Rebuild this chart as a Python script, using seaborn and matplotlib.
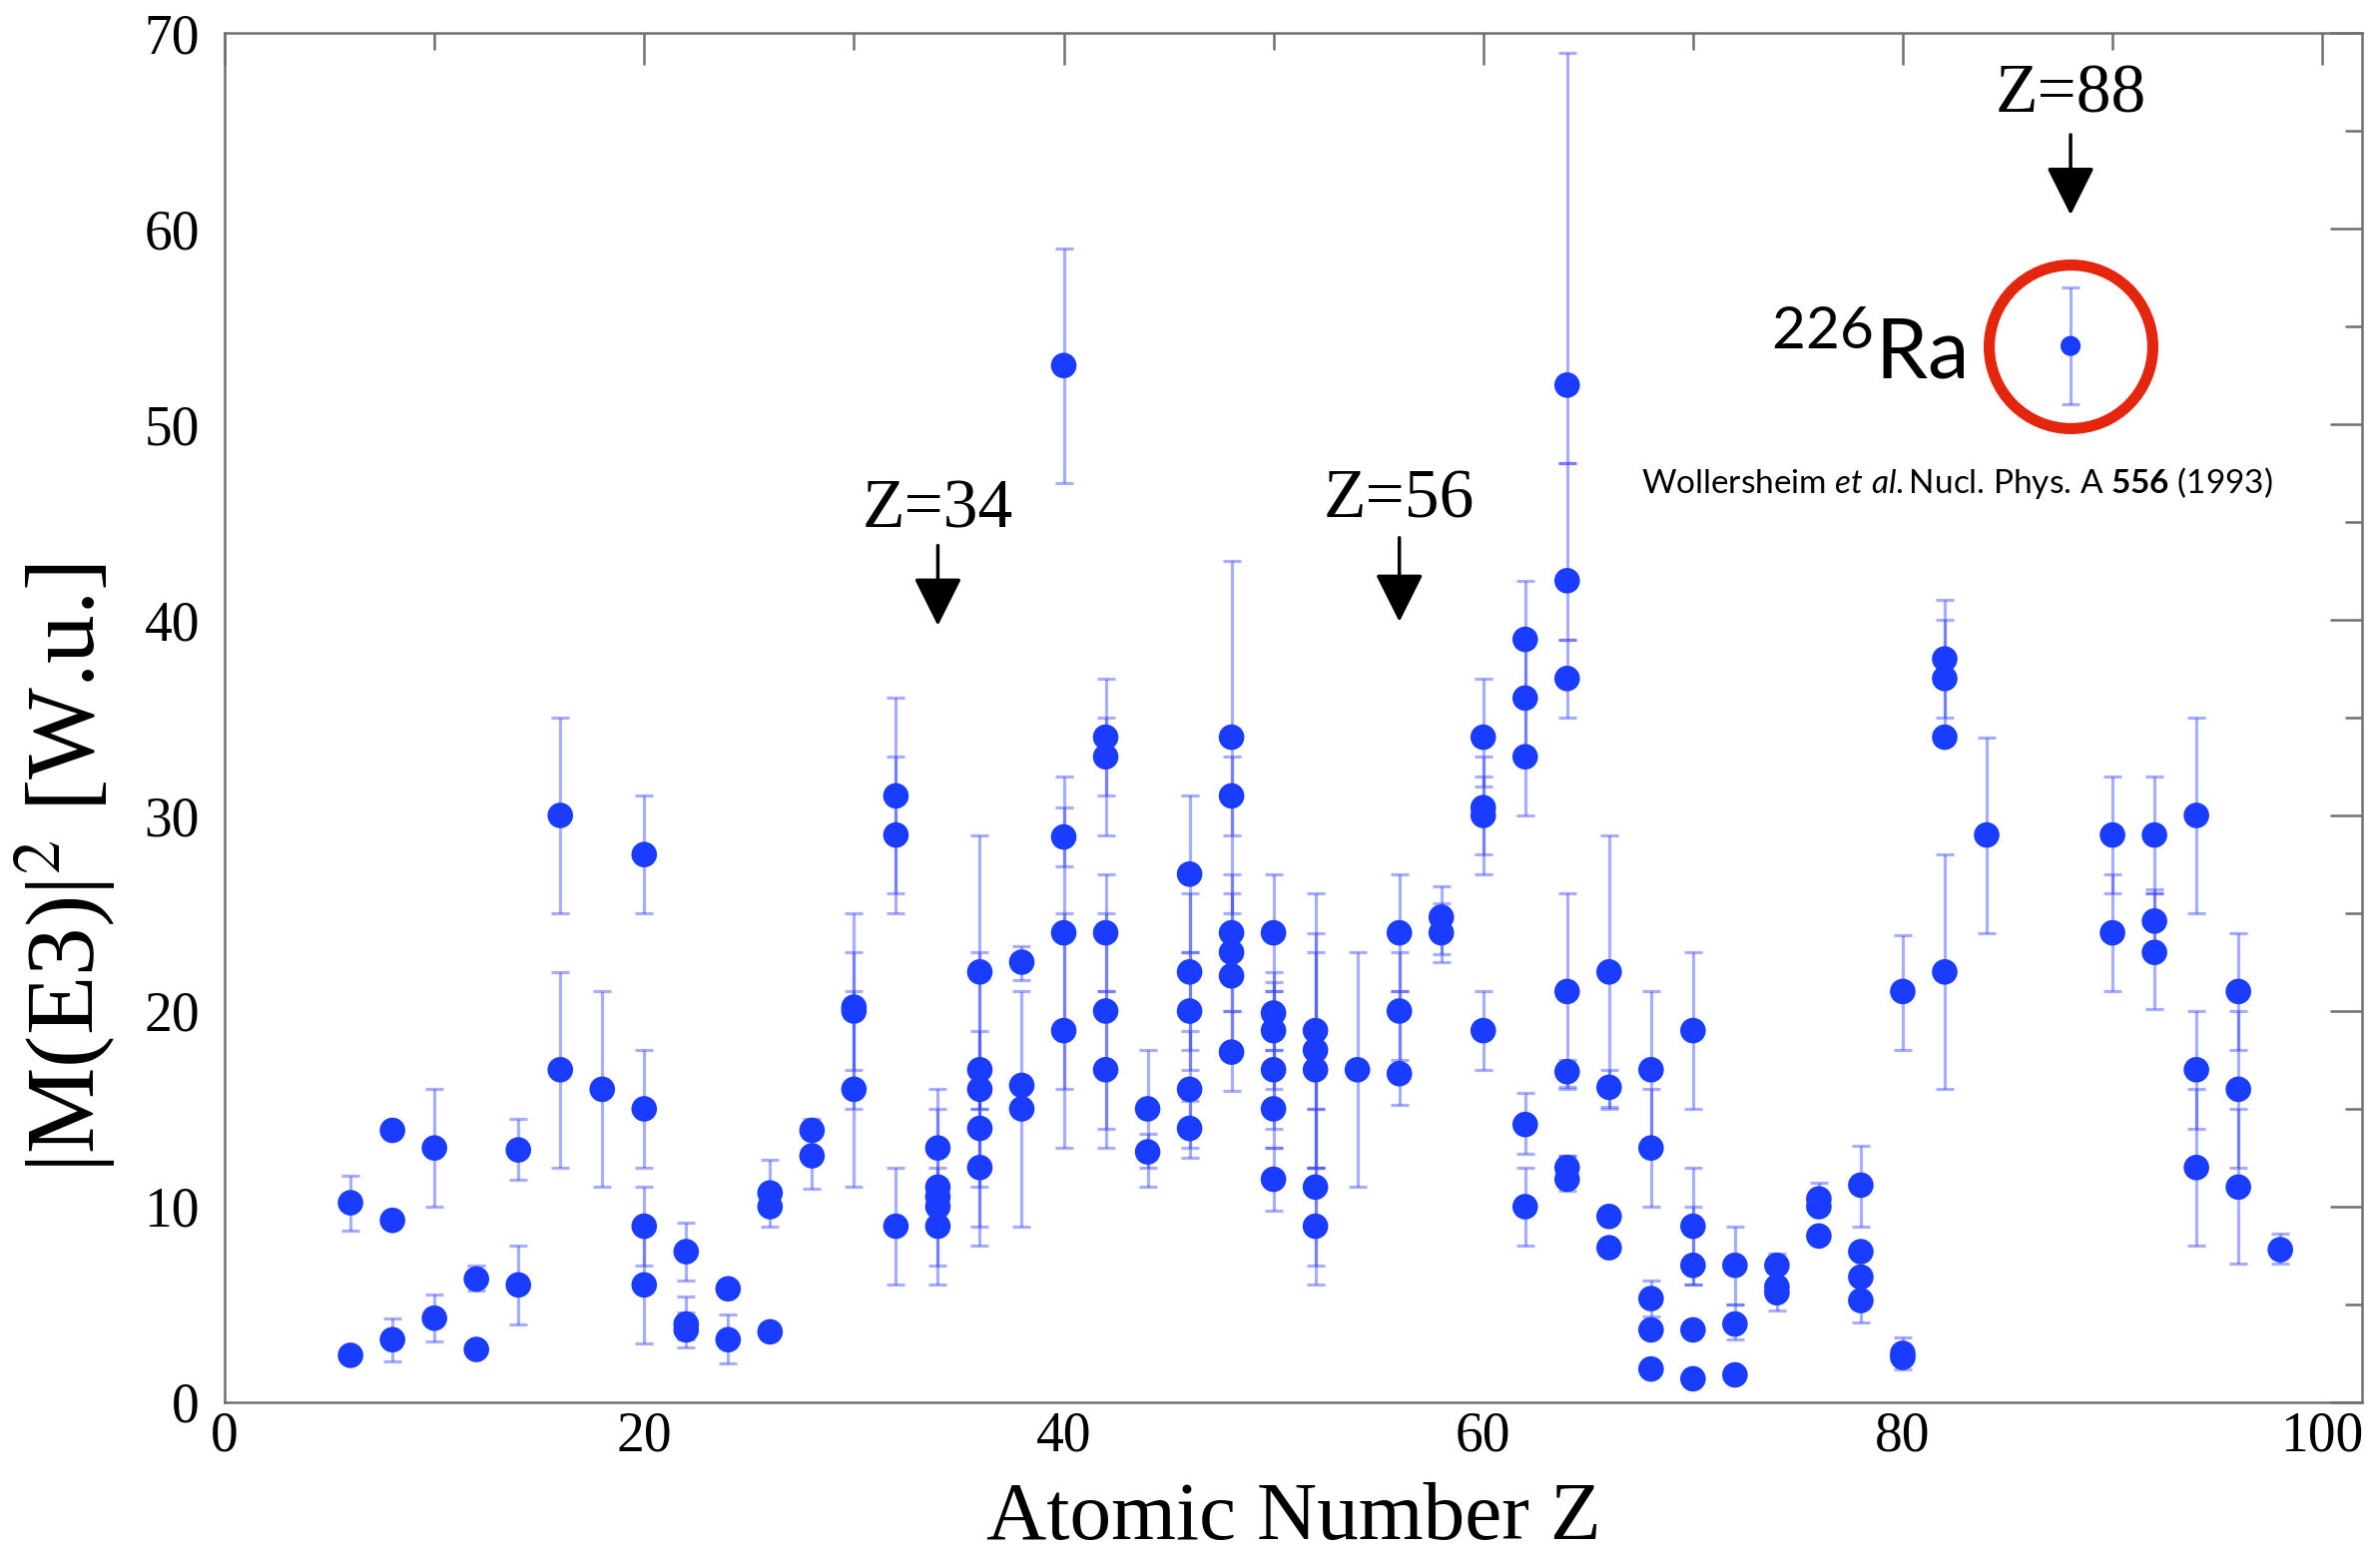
import numpy as np
import pandas as pd
import seaborn as sns
import matplotlib
matplotlib.use("Agg")
import matplotlib.pyplot as plt
from matplotlib.ticker import MultipleLocator

# ---------- datos ----------
# Z, |M(E3)|^2 [W.u.], limite inferior y superior de la barra (None = sin barra)
z = [6, 6,
     8, 8, 8,
     10, 10,
     12, 12,
     14, 14,
     16, 16,
     18,
     20, 20, 20, 20,
     22, 22, 22,
     24, 24,
     26, 26, 26,
     28, 28,
     30, 30, 30,
     32, 32, 32,
     34, 34, 34, 34, 34,
     36, 36, 36, 36, 36,
     38, 38, 38,
     40, 40, 40, 40,
     42, 42, 42, 42, 42,
     44, 44,
     46, 46, 46, 46, 46,
     48, 48, 48, 48, 48, 48,
     50, 50, 50, 50, 50, 50,
     52, 52, 52, 52, 52,
     54,
     56, 56, 56,
     58, 58,
     60, 60, 60, 60,
     62, 62, 62, 62, 62,
     64, 64, 64, 64, 64, 64, 64,
     66, 66, 66, 66,
     68, 68, 68, 68, 68,
     70, 70, 70, 70, 70,
     72, 72, 72,
     74, 74, 74,
     76, 76, 76,
     78, 78, 78, 78,
     80, 80, 80,
     82, 82, 82, 82,
     84,
     90, 90,
     92, 92, 92,
     94, 94, 94,
     96, 96, 96,
     98]

be3 = [10.2, 2.4,
       13.9, 9.3, 3.2,
       13.0, 4.3,
       6.3, 2.7,
       12.9, 6.0,
       30.0, 17.0,
       16.0,
       28.0, 15.0, 9.0, 6.0,
       7.7, 4.0, 3.7,
       5.8, 3.2,
       10.7, 10.0, 3.6,
       13.9, 12.6,
       20.0, 20.2, 16.0,
       31.0, 29.0, 9.0,
       13.0, 11.0, 10.5, 10.0, 9.0,
       22.0, 17.0, 16.0, 14.0, 12.0,
       22.5, 16.2, 15.0,
       53.0, 28.9, 24.0, 19.0,
       34.0, 33.0, 24.0, 20.0, 17.0,
       15.0, 12.8,
       27.0, 22.0, 20.0, 16.0, 14.0,
       34.0, 31.0, 24.0, 23.0, 21.8, 17.9,
       24.0, 19.9, 19.0, 17.0, 15.0, 11.4,
       19.0, 18.0, 17.0, 11.0, 9.0,
       17.0,
       24.0, 20.0, 16.8,
       24.8, 24.0,
       34.0, 30.4, 30.0, 19.0,
       39.0, 36.0, 33.0, 14.2, 10.0,
       52.0, 42.0, 37.0, 21.0, 16.9, 12.0, 11.4,
       22.0, 16.1, 9.5, 7.9,
       17.0, 13.0, 5.3, 3.7, 1.7,
       19.0, 9.0, 7.0, 3.7, 1.2,
       7.0, 4.0, 1.4,
       7.0, 5.9, 5.6,
       10.4, 10.0, 8.5,
       11.1, 7.7, 6.4, 5.2,
       21.0, 2.5, 2.3,
       38.0, 37.0, 34.0, 22.0,
       29.0,
       29.0, 24.0,
       29.0, 24.6, 23.0,
       30.0, 17.0, 12.0,
       21.0, 16.0, 11.0,
       7.8]

err_lo = [8.8, None,
          None, None, 2.1,
          10.0, 3.1,
          5.7, None,
          11.4, 4.0,
          25.0, 12.0,
          11.0,
          25.0, 12.0, 7.0, 3.0,
          6.2, 3.2, 2.8,
          None, 2.0,
          9.0, None, None,
          None, 10.9,
          17.0, 15.0, 11.0,
          26.0, 25.0, 6.0,
          10.0, 7.0, None, None, 6.0,
          15.0, 11.0, 15.0, 9.0, 8.0,
          21.6, None, 9.0,
          47.0, 27.4, 16.0, 13.0,
          31.0, 29.0, 21.0, 14.0, 13.0,
          12.0, 11.0,
          23.0, 18.0, 17.0, 13.0, 12.5,
          25.0, 29.0, 20.0, None, 18.0, 15.9,
          21.0, 18.0, 16.0, 14.0, 13.0, 9.8,
          12.0, 15.0, 12.0, 7.0, 6.0,
          11.0,
          21.0, 17.5, 15.2,
          22.9, 22.5,
          31.5, 27.0, 28.0, 17.0,
          36.0, 33.0, 30.0, 12.7, 8.0,
          48.0, 39.0, 35.0, 16.0, 16.1, 11.4, 10.8,
          15.0, 15.1, None, None,
          13.0, 10.0, 4.4, None, None,
          15.0, 6.0, 6.0, None, None,
          5.0, 3.2, None,
          6.3, 4.7, None,
          9.8, None, None,
          9.0, None, None, 4.1,
          18.0, 1.7, None,
          35.0, 34.0, None, 16.0,
          24.0,
          26.0, 21.0,
          26.0, 23.0, 20.1,
          25.0, 14.0, 8.0,
          18.0, 12.0, 7.1,
          7.1]

err_hi = [11.6, None,
          None, None, 4.3,
          16.0, 5.5,
          7.0, None,
          14.5, 8.0,
          35.0, 22.0,
          21.0,
          31.0, 18.0, 11.0, 9.0,
          9.2, 5.4, 4.6,
          None, 4.5,
          12.4, None, None,
          None, 14.5,
          23.0, 25.0, 21.0,
          36.0, 33.0, 12.0,
          16.0, 15.0, None, None, 12.0,
          29.0, 23.0, 17.0, 19.0, 16.0,
          23.3, None, 21.0,
          59.0, 32.0, 30.4, 25.0,
          37.0, 35.0, 27.0, 25.0, 21.0,
          18.0, 13.7,
          31.0, 26.0, 23.0, 19.0, 15.4,
          43.0, 33.0, 27.0, None, 26.0, 20.0,
          27.0, 22.0, 21.5, 21.0, 18.0, 13.0,
          26.0, 24.0, 23.0, 15.0, 12.0,
          23.0,
          27.0, 23.0, 21.0,
          26.4, 25.5,
          37.0, 33.0, 32.0, 21.0,
          42.0, 39.0, 36.0, 15.8, 12.0,
          69.0, 48.0, 39.0, 26.0, 17.5, 12.6, 12.6,
          29.0, 17.0, None, None,
          21.0, 16.0, 6.2, None, None,
          23.0, 12.0, 10.0, None, None,
          9.0, 5.0, None,
          7.6, 7.0, None,
          11.2, None, None,
          13.1, None, None, 6.0,
          23.9, 3.3, None,
          41.0, 40.0, None, 28.0,
          34.0,
          32.0, 27.0,
          32.0, 26.2, 26.0,
          35.0, 20.0, 16.0,
          24.0, 20.0, 15.0,
          8.6]

# 226Ra (Wollersheim et al.)
ra_z = [88]
ra_be3 = [54.0]
ra_lo = [51.0]
ra_hi = [57.0]

# flechas de capas cerradas
shell_z = [34, 56, 88]
shell_label = ["Z=34", "Z=56", "Z=88"]
shell_text_y = [45.6, 46.1, 66.8]
shell_arrow_top = [43.8, 44.2, 64.8]
shell_arrow_tip = [39.7, 39.9, 60.7]

# ---------- estilo ----------
sns.set_style("white")
plt.rcParams["font.family"] = ["Liberation Serif", "DejaVu Serif"]
plt.rcParams["mathtext.fontset"] = "custom"
plt.rcParams["mathtext.rm"] = "Lato"
plt.rcParams["mathtext.it"] = "Lato:italic"
plt.rcParams["mathtext.bf"] = "Lato:bold"

DOT = "#1a3cff"
BAR = "#3040ff"
FRAME = "#707070"

df = pd.DataFrame({
    "Z": z,
    "BE3": be3,
    "lo": pd.to_numeric(pd.Series(err_lo, dtype=object), errors="coerce"),
    "hi": pd.to_numeric(pd.Series(err_hi, dtype=object), errors="coerce"),
})

fig, ax = plt.subplots(figsize=(23.84, 15.59), dpi=100)
fig.subplots_adjust(left=0.0944, right=0.9925, bottom=0.0988, top=0.9788)

# barras de error (solo donde hay)
eb = df.dropna(subset=["lo", "hi"])
ax.errorbar(eb["Z"], eb["BE3"],
            yerr=[eb["BE3"] - eb["lo"], eb["hi"] - eb["BE3"]],
            fmt="none", ecolor=BAR, alpha=0.42, elinewidth=2.3,
            capsize=6.5, capthick=2.3, zorder=2)

sns.scatterplot(data=df, x="Z", y="BE3", color=DOT, s=340,
                edgecolor="none", linewidth=0, ax=ax, zorder=3)

# punto de 226Ra
ax.errorbar(ra_z, ra_be3,
            yerr=[[v - l for v, l in zip(ra_be3, ra_lo)],
                  [h - v for v, h in zip(ra_be3, ra_hi)]],
            fmt="none", ecolor=BAR, alpha=0.42, elinewidth=2.3,
            capsize=6.5, capthick=2.3, zorder=2)
sns.scatterplot(x=ra_z, y=ra_be3, color=DOT, s=210, edgecolor="none",
                linewidth=0, ax=ax, zorder=3)
ax.plot(ra_z, ra_be3, marker="o", ms=118, mfc="none", mec="#e3260d",
        mew=8, ls="none", zorder=4)

# flechas y etiquetas
for zz, lab, ty, y0, y1 in zip(shell_z, shell_label, shell_text_y,
                               shell_arrow_top, shell_arrow_tip):
    ax.text(zz, ty, lab, ha="center", va="center", fontsize=50,
            family="Liberation Serif", color="black")
    ax.annotate("", xy=(zz, y1), xytext=(zz, y0),
                arrowprops=dict(arrowstyle="-|>,head_length=1.0,head_width=0.5",
                                mutation_scale=30, lw=2.5, color="black",
                                shrinkA=0, shrinkB=0))

ax.text(83.0, 52.3, r"$^{226}$Ra", ha="right", va="baseline",
        fontsize=60, family="Lato", color="black")
ax.text(82.6, 47.0,
        r"Wollersheim $\mathit{et\ al.}$Nucl. Phys. A $\mathbf{556}$ (1993)",
        ha="center", va="center", fontsize=24, family="Lato", color="black")

# ---------- ejes ----------
ax.set_xlim(0, 101.9)
ax.set_ylim(0, 70)
ax.xaxis.set_major_locator(MultipleLocator(20))
ax.xaxis.set_minor_locator(MultipleLocator(10))
ax.yaxis.set_major_locator(MultipleLocator(10))
ax.yaxis.set_minor_locator(MultipleLocator(5))

ax.tick_params(axis="both", which="both", direction="in",
               top=True, right=True, color=FRAME, width=1.8)
ax.tick_params(axis="both", which="major", length=23, labelsize=40,
               labelcolor="black")
ax.tick_params(axis="both", which="minor", length=12)
ax.tick_params(axis="x", which="major", pad=6)
ax.tick_params(axis="y", which="major", pad=18)

for sp in ax.spines.values():
    sp.set_color(FRAME)
    sp.set_linewidth(1.8)

ax.set_xlabel("Atomic Number Z", fontsize=60, color="black")
ax.set_ylabel(r"|M(E3)|$^{2}$ [W.u.]", fontsize=70, color="black",
              math_fontfamily="stix")
ax.xaxis.set_label_coords(0.5, -0.058)
ax.yaxis.set_label_coords(-0.050, 0.39)

fig.savefig("out.png", dpi=100)
